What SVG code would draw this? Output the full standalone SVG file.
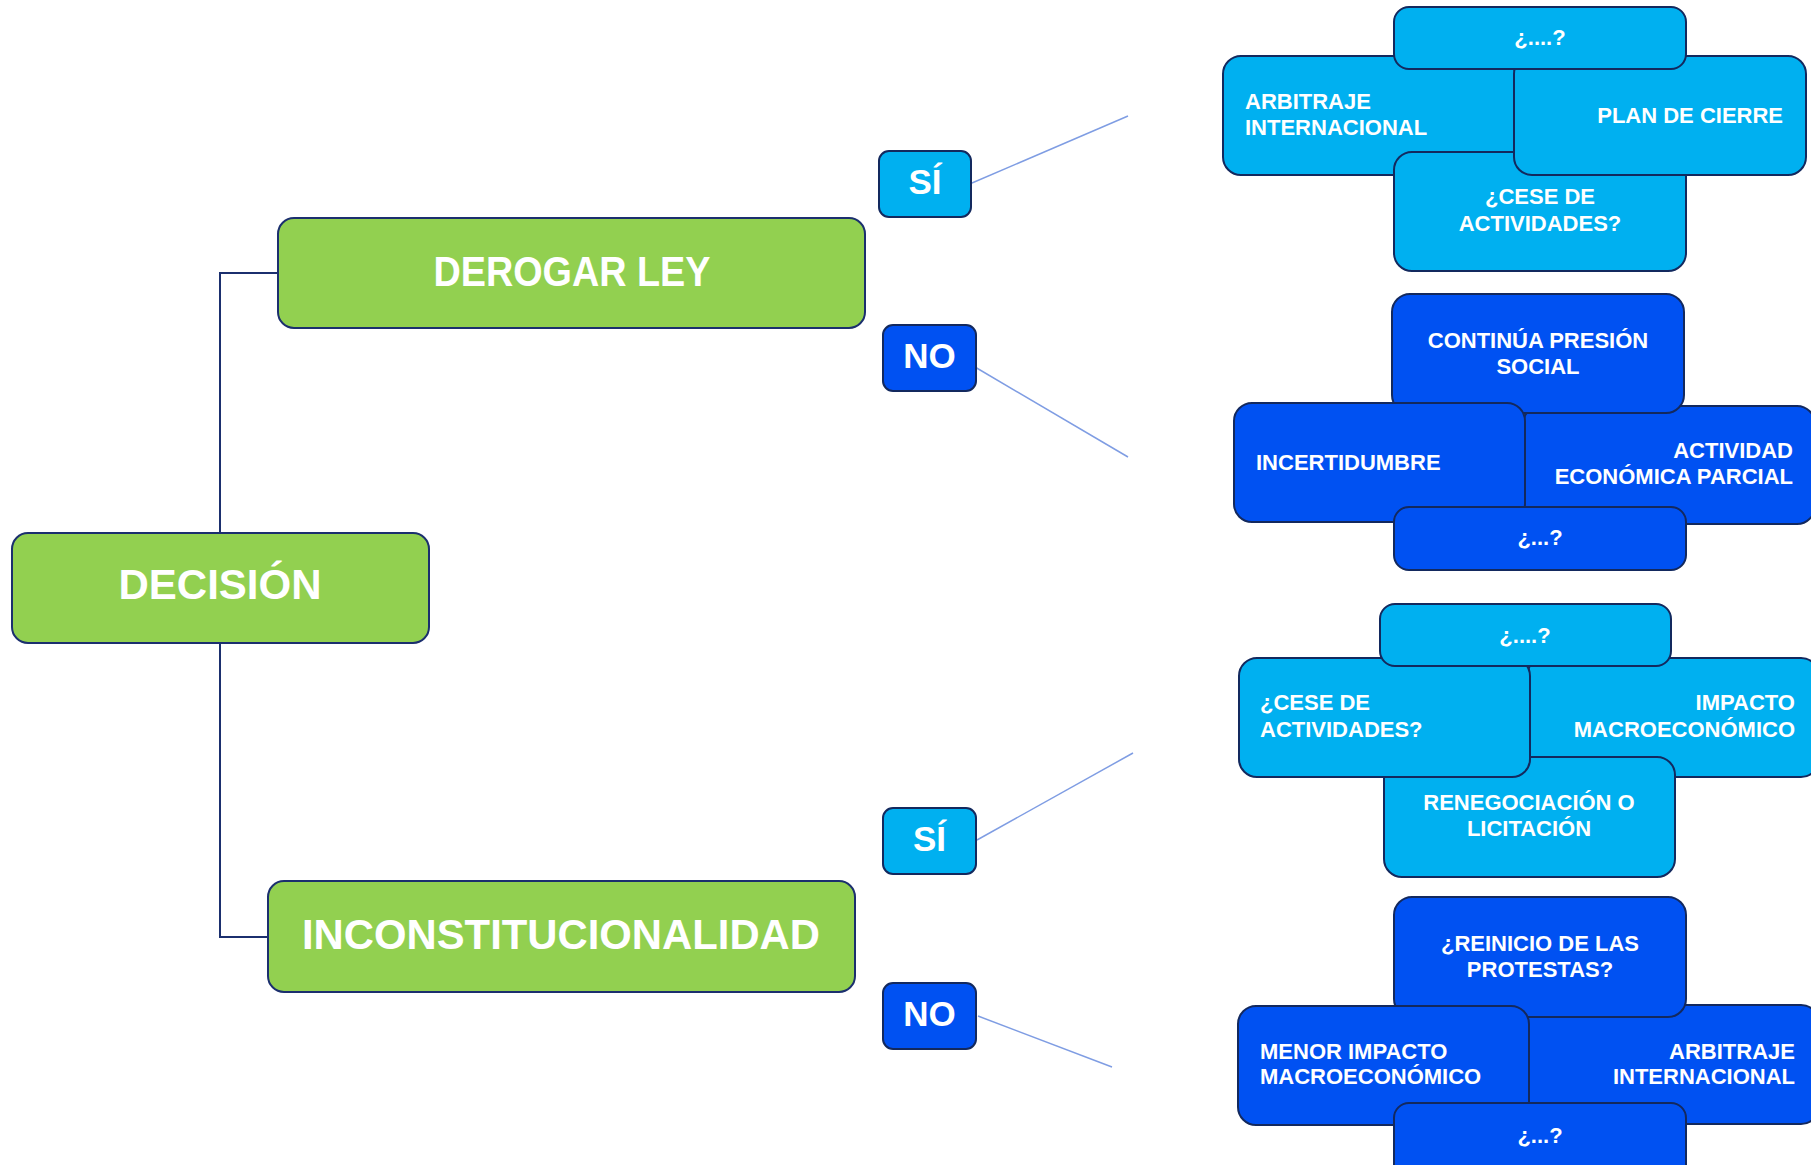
<svg xmlns="http://www.w3.org/2000/svg" width="1811" height="1165" viewBox="0 0 1811 1165">
<style>
.g{fill:#92d050;stroke:#1b2f6e;stroke-width:2}
.lb{fill:#00b0f0;stroke:#13295e;stroke-width:2}
.db{fill:#0051f2;stroke:#13295e;stroke-width:2}
.big{font-family:"Liberation Sans",Arial,sans-serif;font-weight:bold;font-size:42px;fill:#fff;text-anchor:middle}
.yn{font-family:"Liberation Sans",Arial,sans-serif;font-weight:bold;font-size:35px;fill:#fff;text-anchor:middle}
.t{font-family:"Liberation Sans",Arial,sans-serif;font-weight:bold;font-size:22px;fill:#fff}
.m{text-anchor:middle}.e{text-anchor:end}
.tree{fill:none;stroke:#1b2f6e;stroke-width:2}
.thin{fill:none;stroke:#7f9de3;stroke-width:1.5}
</style>
<g id="connectors">
<path class="tree" d="M278,273 H220 V533"/>
<path class="tree" d="M220,643 V937 H268"/>
<line class="thin" x1="972" y1="183" x2="1128" y2="116"/>
<line class="thin" x1="975" y1="367" x2="1128" y2="457"/>
<line class="thin" x1="977" y1="840" x2="1133" y2="753"/>
<line class="thin" x1="978" y1="1016" x2="1112" y2="1067"/>
</g>
<g id="decision"><rect class="g" x="12" y="533" width="417" height="110" rx="16"/><text class="big" x="220" y="599">DECISIÓN</text></g>
<g id="derogar"><rect class="g" x="278" y="218" width="587" height="110" rx="16"/><text class="big" x="572" y="286" textLength="277" lengthAdjust="spacingAndGlyphs">DEROGAR LEY</text></g>
<g id="inconst"><rect class="g" x="268" y="881" width="587" height="111" rx="16"/><text class="big" x="561" y="949" textLength="518" lengthAdjust="spacingAndGlyphs">INCONSTITUCIONALIDAD</text></g>
<g id="si1"><rect class="lb" x="879" y="151" width="92" height="66" rx="10"/><text class="yn" x="925" y="194">SÍ</text></g>
<g id="no1"><rect class="db" x="883" y="325" width="93" height="66" rx="10"/><text class="yn" x="929.5" y="368">NO</text></g>
<g id="si2"><rect class="lb" x="883" y="808" width="93" height="66" rx="10"/><text class="yn" x="929.5" y="851">SÍ</text></g>
<g id="no2"><rect class="db" x="883" y="983" width="93" height="66" rx="10"/><text class="yn" x="929.5" y="1026">NO</text></g>

<g id="c1-arbitraje"><rect class="lb" x="1223" y="56" width="292" height="119" rx="18"/><text class="t" x="1245" y="109">ARBITRAJE</text><text class="t" x="1245" y="135">INTERNACIONAL</text></g>
<g id="c1-cese"><rect class="lb" x="1394" y="152" width="292" height="119" rx="18"/><text class="t m" x="1540" y="204">¿CESE DE</text><text class="t m" x="1540" y="231">ACTIVIDADES?</text></g>
<g id="c1-plan"><rect class="lb" x="1514" y="56" width="292" height="119" rx="18"/><text class="t e" x="1783" y="123">PLAN DE CIERRE</text></g>
<g id="c1-q"><rect class="lb" x="1394" y="7" width="292" height="62" rx="15"/><text class="t m" x="1540" y="45">¿....?</text></g>

<g id="c2-actividad"><rect class="db" x="1523" y="406" width="292" height="118" rx="18"/><text class="t e" x="1793" y="458">ACTIVIDAD</text><text class="t e" x="1793" y="484">ECONÓMICA PARCIAL</text></g>
<g id="c2-continua"><rect class="db" x="1392" y="294" width="292" height="119" rx="18"/><text class="t m" x="1538" y="348">CONTINÚA PRESIÓN</text><text class="t m" x="1538" y="374">SOCIAL</text></g>
<g id="c2-incert"><rect class="db" x="1234" y="403" width="291" height="119" rx="18"/><text class="t" x="1256" y="470">INCERTIDUMBRE</text></g>
<g id="c2-q"><rect class="db" x="1394" y="507" width="292" height="63" rx="15"/><text class="t m" x="1540" y="545">¿...?</text></g>

<g id="c3-impacto"><rect class="lb" x="1527" y="658" width="292" height="119" rx="18"/><text class="t e" x="1795" y="710">IMPACTO</text><text class="t e" x="1795" y="737">MACROECONÓMICO</text></g>
<g id="c3-reneg"><rect class="lb" x="1384" y="757" width="291" height="120" rx="18"/><text class="t m" x="1529" y="810">RENEGOCIACIÓN O</text><text class="t m" x="1529" y="836">LICITACIÓN</text></g>
<g id="c3-cese"><rect class="lb" x="1239" y="658" width="291" height="119" rx="18"/><text class="t" x="1260" y="710">¿CESE DE</text><text class="t" x="1260" y="737">ACTIVIDADES?</text></g>
<g id="c3-q"><rect class="lb" x="1380" y="604" width="291" height="62" rx="15"/><text class="t m" x="1525" y="643">¿....?</text></g>

<g id="c4-arbitraje"><rect class="db" x="1527" y="1005" width="292" height="119" rx="18"/><text class="t e" x="1795" y="1059">ARBITRAJE</text><text class="t e" x="1795" y="1084">INTERNACIONAL</text></g>
<g id="c4-reinicio"><rect class="db" x="1394" y="897" width="292" height="120" rx="18"/><text class="t m" x="1540" y="951">¿REINICIO DE LAS</text><text class="t m" x="1540" y="977">PROTESTAS?</text></g>
<g id="c4-menor"><rect class="db" x="1238" y="1006" width="291" height="119" rx="18"/><text class="t" x="1260" y="1059">MENOR IMPACTO</text><text class="t" x="1260" y="1084">MACROECONÓMICO</text></g>
<g id="c4-q"><rect class="db" x="1394" y="1103" width="292" height="80" rx="15"/><text class="t m" x="1540" y="1143">¿...?</text></g>
</svg>
